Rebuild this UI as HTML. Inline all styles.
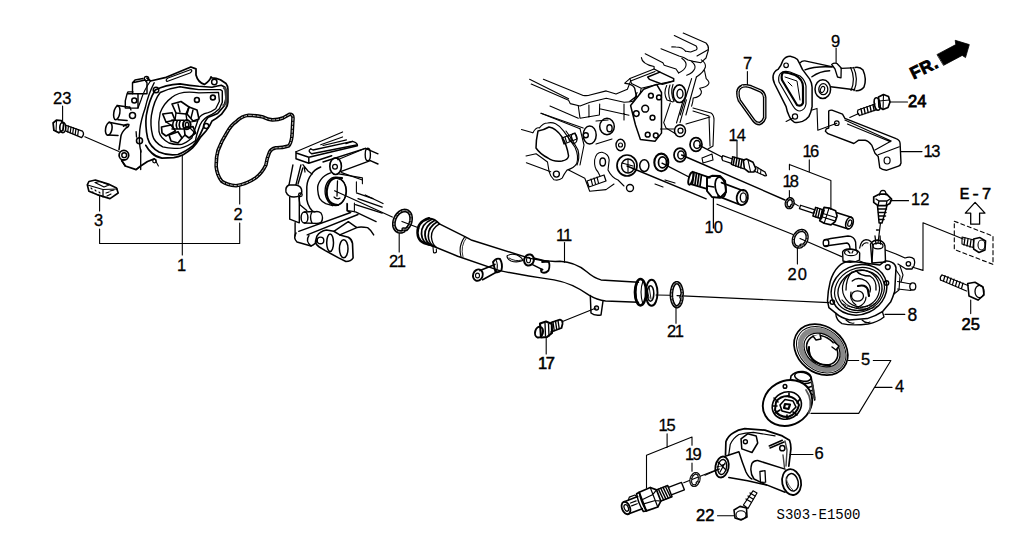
<!DOCTYPE html>
<html><head><meta charset="utf-8">
<style>
html,body{margin:0;padding:0;background:#fff;width:1022px;height:554px;overflow:hidden}
svg{display:block}
text{font-family:"Liberation Sans",sans-serif;font-size:16.5px;fill:#000;stroke:#000;stroke-width:0.3}
.l{stroke:#000;stroke-width:1.1;fill:none}
</style></head><body>
<svg width="1022" height="554" viewBox="0 0 1022 554">
<rect width="1022" height="554" fill="#fff"/>

<g id="pump" class="l" stroke-linejoin="round" stroke-linecap="round">
<!-- leader lines -->
<path d="M62.6,106 V120.5 M84.8,136.8 L119,151.5 M99.6,196 V211 M99.6,229 V243.5 H239.7 V223 M239.7,204 V186 M182.3,155 V255"/>
<!-- bolt 23 -->
<path d="M53.1,123 L56.4,120.1 L61.3,120.6 L63.7,123.8 L62.9,130.3 L58.8,132.8 L53.9,130.3 Z" stroke-width="1.76"/>
<path d="M56.5,121 L56,131.5" stroke-width="1.10"/>
<ellipse cx="62.8" cy="127.5" rx="3" ry="5.2" stroke-width="1.65"/>
<path d="M66.1,125.4 L82.4,131.1 M66.1,131.1 L81.6,137.6 M82.4,131.1 Q85,134 81.6,137.6" stroke-width="1.32"/>
<path d="M68.5,126 l-0.8,5.8 M71,127 l-0.8,5.8 M73.5,127.8 l-0.8,5.8 M76,128.6 l-0.8,5.8 M78.5,129.5 l-0.8,5.8" stroke-width="1.21"/>
<!-- part 3 -->
<path d="M88.9,181.5 L95.4,180 L108.4,184 L116.5,188 L118.2,193 L110,198.6 L97,194.6 L88.9,191.3 L87.3,184.8 Z" stroke-width="1.65"/>
<path d="M87.5,185 L103,189.5 L117.5,189 M103,189.5 L103,197 M95,182.5 L100,181.5 L109,185 L104,187 Z" stroke-width="1.21"/>
<path d="M91,188 l1,1 M95,190 l1,1 M92,192 l1,0 M99,192 l1,1 M106,193 l3,-1 M110,191 l4,-1 M107,196 l4,-2" stroke-width="1.10"/>
<!-- pump flange outer -->
<path d="M147,78 L150.5,81 L165,77.7 L190.9,67 L196,68.9 L196,75 Q198,82.5 204.4,84.4 Q210,81 211,76.9 L212,77.8 Q216,78 220.4,79.7 L226,83.5 Q228,86 227.9,89.1 L227.9,102.2 Q227.5,106 226,107.9 L221.3,114.4 Q216,119 212,121 Q210,126 206,131 L200.1,137.7 Q197,143 192.5,147.9 Q188,152 183.2,154.7 Q178,157 173.8,157.7 L162,158.1 Q156,157 151.8,153 Q148,149.5 145.8,145.4 M154.3,158.9 L147.5,161.5 L140.7,166 L136.1,169.6 L125.3,166 L121.7,160.6" stroke-width="1.76"/>
<path d="M168,78 L191,69.5 Q193,71 190,73 L167,81.5 Q165,80 168,78 Z" stroke-width="1.21"/>
<!-- left body -->
<path d="M132.5,82.8 L145.2,80 L147,82.8 L147,93.7 L132.5,93.7 Z M132.5,82.8 L135,80 L143,78.5" stroke-width="1.43"/>
<circle cx="146.5" cy="78.5" r="2.2" stroke-width="1.32"/>
<path d="M132.5,93.7 L127.1,93.7 L125.3,100.9 L125.3,108.1 L138,108.1 L138,93.7 M127.1,93.7 L128,91.9 L133,91.9" stroke-width="1.43"/>
<circle cx="134.3" cy="100.5" r="2.5" stroke-width="1.54"/>
<ellipse cx="116.8" cy="112.8" rx="3" ry="7" transform="rotate(10 116.8 112.8)" stroke-width="1.54"/>
<path d="M117.2,105.4 L129.8,107.2 M118,119.8 L127.1,120.5" stroke-width="1.54"/>
<circle cx="132.5" cy="115.4" r="3" stroke-width="1.54"/>
<ellipse cx="108.8" cy="128.8" rx="3.2" ry="6.5" transform="rotate(10 108.8 128.8)" stroke-width="1.54"/>
<path d="M109,122.3 L124.4,125.3 M108.1,135 L118,135.5" stroke-width="1.54"/>
<path d="M123.5,126.2 Q126,123.5 128.9,124.4 Q129,127 126,128 Q121,133 120.8,137 L119,149.7" stroke-width="1.54"/>
<path d="M129.8,107.2 L131,110 M124.4,125.3 L127,126" stroke-width="1.32"/>
<circle cx="123.9" cy="155.2" r="4.8" stroke-width="1.76"/>
<circle cx="124.2" cy="155.2" r="2.4" stroke-width="1.43"/>
<path d="M121.7,160.6 L125.3,166" stroke-width="1.43"/>
<path d="M136.1,131.6 L136.5,137 M140.7,149.7 L140.7,169.6 M136.1,169.6 L140.7,166" stroke-width="1.32"/>
<circle cx="139.5" cy="140.7" r="3" stroke-width="1.54"/>
<path d="M154.2,82.8 Q148,95 145.2,108.1 Q141,120 139.8,129.8 Q138.5,142 141,152" stroke-width="1.43"/>
<path d="M150.5,81 Q144,90 141,100 L138,108" stroke-width="1.21"/>
<!-- groove 3 lines -->
<path d="M155.2,90 Q165,85 180,83.9 Q190,85.5 198.8,86.3 L212,87.2 Q218,86 221.3,85.3 L225,87.2 L226,98.5 L224.1,106 L217.6,113.5 Q212,116 208.2,117.3 Q204,122 203.2,127.9 Q198,140 193,145.6 Q185,152 177.9,154.5 Q168,156 159,152 Q150,147 147.6,138 Q145,126 146.3,115.3 Q149,100 155.2,90 Z" stroke-width="1.65"/>
<path d="M160.2,92.5 Q170,88 180,86.7 Q190,88.5 198.8,89.6 L220.4,89.6 L222.3,91 L222.3,102.2 L219.4,108.8 Q215,113 211.9,114.4 Q203,118 200,125 Q196,136 195.6,140.5 Q187,147 180.4,148.1 Q170,149 162.7,146.9 Q154,142 152.6,135.5 Q150,125 151.4,115.3 Q154,100 160.2,92.5 Z" stroke-width="1.43"/>
<path d="M171.6,97.6 Q180,90 198.8,92.8 L218.5,92.4 L219.4,101.3 L215.7,108.8 Q211,112 208.2,112.6 Q200,114 198,120 Q194,132 191.8,138 Q186,143 181.7,144.3 Q175,145 169,143 Q160,138 159,131.7 Q158,122 160.2,112.7 Q164,103 171.6,97.6" stroke-width="1.32"/>
<path d="M224,88 L226.5,90 L226,104 L223.5,105" stroke-width="2.42" stroke="#444"/>
<!-- holes -->
<circle cx="214.3" cy="82" r="2.7" stroke-width="1.43"/>
<circle cx="196.9" cy="99.9" r="2.4" stroke-width="1.65"/>
<circle cx="212.9" cy="97.5" r="2.4" stroke-width="1.65"/>
<circle cx="206.2" cy="126" r="2.5" stroke-width="1.43"/>
<circle cx="156" cy="90" r="2.8" stroke-width="1.43"/>
<!-- impeller -->
<path d="M172,104 L181,101.5 L189,107 L186,114 L176,113 Z" stroke-width="1.65"/>
<path d="M189,107 L197,110 L199,119 L193,121 L187,114 Z" stroke-width="1.65"/>
<path d="M162.7,114 L172,112.7 L175,120 L166,122 Z" stroke-width="1.65"/>
<path d="M161.5,127 L171,125 L175.4,131 L166,136 L162,133 Z" stroke-width="1.65"/>
<path d="M169,135 L178,131.7 L182,138 L178,143 L171,141 Z" stroke-width="1.65"/>
<path d="M184.2,128 L193,126.6 L195.6,133 L189,138 L185,135 Z" stroke-width="1.65"/>
<path d="M176,113 L175,120 M186,114 L187,121 M166,122 L171,125 M182,138 L185,135 M178,104 L180,112 M193,110 L191,118" stroke-width="1.43"/>
<path d="M171.6,120.3 L184,120.3 M172,129 L184,129 M174,120.3 Q171.5,124.5 174,129 M177.5,120.3 Q175,124.5 177.5,129 M180.5,120.3 Q178,124.5 180.5,129" stroke-width="1.54"/>
<ellipse cx="186.8" cy="124.7" rx="3.8" ry="4.6" stroke-width="1.98"/>
<ellipse cx="187" cy="124.7" rx="1.7" ry="2.3" stroke-width="1.43"/>
<path d="M190.5,122 L197,121 M190,128 L195,133" stroke-width="1.21"/>
<path d="M155.5,160.5 L158.4,166" stroke-width="1.10"/>
<circle cx="154.5" cy="161" r="1.8" stroke-width="1.21"/>
</g>

<g id="gasket2" fill="none" stroke-linejoin="round">
<path id="g2p" d="M248.7,115.3 Q256,115.5 263.2,117.1 Q268,119.5 272.2,119.9 Q278,120 283,118 L289.4,114.4 Q293,114 293,118 L292,136 Q291,144 288.4,146 Q282,148 275.8,147.8 Q271,149 269.5,152.3 Q267,158 265.9,165 Q262,173 256,177.6 Q247,184 236.1,185.7 Q227,185 221.7,181.2 Q217,175 216.2,166.8 Q216,157 218,150.5 Q222,140 227,132.5 Q231,125 236.1,121.7 Q242,116 248.7,115.3 Z" stroke="#000" stroke-width="3.6"/>
<path d="M248.7,115.3 Q256,115.5 263.2,117.1 Q268,119.5 272.2,119.9 Q278,120 283,118 L289.4,114.4 Q293,114 293,118 L292,136 Q291,144 288.4,146 Q282,148 275.8,147.8 Q271,149 269.5,152.3 Q267,158 265.9,165 Q262,173 256,177.6 Q247,184 236.1,185.7 Q227,185 221.7,181.2 Q217,175 216.2,166.8 Q216,157 218,150.5 Q222,140 227,132.5 Q231,125 236.1,121.7 Q242,116 248.7,115.3 Z" stroke="#fff" stroke-width="0.8" stroke-dasharray="3,1"/>
</g>
<g id="block1" class="l" stroke-linejoin="round" stroke-linecap="round" stroke-width="1.38">
<!-- slab -->
<path d="M296,151.8 L342.6,131.9 M320.7,144.8 L342.6,136.9 M323,145.5 L346.5,139.9"/>
<path d="M296,151.8 L296,158.7 L308.8,163.2 L331.7,155.8 M297,153.3 L308.8,157.2 L357.4,145.8 Q358,143 352.5,141.4 L346,143.5 M308.8,157.2 V163.2" stroke-width="1.49"/>
<path d="M310.8,148.8 Q307,151 311.8,153.8 L356.5,145 M310.8,148.8 L313,150 L352.5,141.4" stroke-width="1.38"/>
<!-- rail -->
<path d="M323,162 L365.4,148.3 L378,153.8 M340.6,171.6 L370.3,160.7 L378,164" stroke-width="1.38"/>
<path d="M337.6,159.7 L365.4,148.3" stroke-width="1.15"/>
<ellipse cx="367.8" cy="154.5" rx="2.6" ry="6.2" stroke-width="1.38"/>
<!-- boss -->
<ellipse cx="335.6" cy="166.2" rx="5.8" ry="8.3" stroke-width="1.61"/>
<circle cx="335" cy="166.7" r="2.4" stroke-width="1.26"/>
<path d="M302.9,164.7 L308,171 L312,174 M304,166 L305,172" stroke-width="1.26"/>
<!-- bore -->
<path d="M320.7,167 Q314,170 311.8,173.9 Q307,180 306.8,186.8 L306.8,199.7 Q307.5,204 309.8,207.7 L312.8,211.6" stroke-width="1.49"/>
<path d="M330.6,172.9 Q324,175 320.7,179.9 Q317,185 317.7,189.8 Q318,195 319.7,198.7 Q322,202 325.7,203.7 L332.6,205.7" stroke-width="1.38"/>
<ellipse cx="335.6" cy="191.3" rx="10.5" ry="14.2" stroke-width="1.38"/>
<path d="M342,178 Q332,176.5 329,183 Q325,191 328,199 Q331,205 338,205" stroke-width="2.07"/>
<path d="M337,178.5 Q346,180 346.5,191 Q346,201 338,205 M337.5,181 L337,196" stroke-width="1.26"/>
<path d="M334,197 Q337,200 340,198" stroke-width="1.15"/>
<!-- through line -->
<path d="M334.6,190.8 L392.3,217 M402,221.5 L419,228" stroke-width="1.26"/>
<!-- right face -->
<path d="M338.6,173.9 L362.4,177.9 L362.4,183.8 M356.4,181.9 L356.4,191.8 M347.5,203.7 L347.5,210.6 L354.4,211.6 M354.4,203 L354.4,212"/>
<path d="M356.4,192.8 L373,198.7 M341.6,172.6 L362.4,180" stroke-width="1.26"/>
<!-- left arm -->
<path d="M292.9,165 L289,184.8 M300.9,165 L295.9,184.8 M302.8,168 L298,184" stroke-width="1.38"/>
<path d="M289,185 Q285,187 286,192 Q288,197 294,197 Q301,197 301.8,192 Q302,186 296,185 Z" stroke-width="1.5"/>
<circle cx="300.4" cy="194.8" r="1.8" stroke-width="1.27"/>
<path d="M289.7,197 V219.2 L299.3,222.8 M299.3,197 V222.8 M295.1,222.8 V236.1" stroke-width="1.4"/>
<path d="M298.9,197 L299.9,204.7 L306.8,210.6" stroke-width="1.3"/>
<!-- cylinder stub -->
<ellipse cx="304.5" cy="217.5" rx="3.4" ry="5.6" stroke-width="1.45"/>
<path d="M304.5,212 L314,211.5 M304.5,223 L315,223.4 M312,212 Q309,217 312,223" stroke-width="1.4"/>
<path d="M314,212 Q318,210.5 321,213 Q324,218 321,222.5 Q318,224 315,223.4" stroke-width="1.4"/>
<!-- bottom rail -->
<path d="M298.7,231.3 L350.7,212.5 M307.2,234.9 L358,214.5 M347,203.5 V210.7 L350.7,212.5" stroke-width="1.4"/>
<path d="M296,233 Q293,238 297,242 L311,246 Q316,244 316.9,240" stroke-width="1.5"/>
<path d="M309,235.5 Q305,241 311,246" stroke-width="1.3"/>
<!-- gasket plate -->
<path d="M316.9,236.1 Q320,231 326.5,230 L333.8,231.3 L339.8,234.9 L348.3,237.3 Q352,239.5 352.5,243.4 L353.1,257.9 Q351,261.5 345.9,261.5 L338.6,257.9 L325.3,250.6 L319.3,247 Q315,244 315.6,240.9 Z" stroke-width="1.6"/>
<circle cx="320.5" cy="240.4" r="3.3" stroke-width="1.4"/>
<ellipse cx="330.1" cy="242.8" rx="3.4" ry="8.8" stroke-width="1.5"/>
<ellipse cx="343.7" cy="248.8" rx="4.3" ry="9" stroke-width="1.5"/>
<path d="M333.8,231.3 L348.3,221.6 L356.8,227.6 Q360,226.5 367.6,227.6 Q371,230 373.7,234.9 M339.8,234.9 L356.8,227.6" stroke-width="1.4"/>
<path d="M355.5,204.7 L382.2,213.1 M355.5,211.9 L376.1,221.6 M358,198.6 L382.2,207.1 M365.2,195 L383,203.5" stroke-width="1.3"/>
</g>

<g id="pipe11" class="l" stroke-linejoin="round" stroke-linecap="round">
<!-- ring 21 left -->
<path d="M403.7,231.1 L402.4,231.6 L401.1,231.9 L399.9,231.9 L398.7,231.7 L397.5,231.2 L396.5,230.6 L395.7,229.7 L395.0,228.7 L394.4,227.4 L394.0,226.1 L393.9,224.6 L393.9,223.1 L394.1,221.5 L394.5,219.9 L395.0,218.3 L395.8,216.8 L396.6,215.4 L397.7,214.1 L398.8,213.0 L400.0,212.1 L401.2,211.4 L402.5,210.8 L403.8,210.6 L405.1,210.5 L406.3,210.7 L407.4,211.1 L408.4,211.8 L409.3,212.6 L410.0,213.7 L410.6,214.9 L410.9,216.3 L411.1,217.7 L411.1,219.3 L410.9,220.8 L410.6,222.4 L410.0,224.0 L409.3,225.5 L408.4,226.9 L407.4,228.2 L406.3,229.3 L403.2,229.2" stroke-width="3.8" stroke-linecap="round" stroke-linejoin="round"/>
<path d="M403.7,231.1 L402.4,231.6 L401.1,231.9 L399.9,231.9 L398.7,231.7 L397.5,231.2 L396.5,230.6 L395.7,229.7 L395.0,228.7 L394.4,227.4 L394.0,226.1 L393.9,224.6 L393.9,223.1 L394.1,221.5 L394.5,219.9 L395.0,218.3 L395.8,216.8 L396.6,215.4 L397.7,214.1 L398.8,213.0 L400.0,212.1 L401.2,211.4 L402.5,210.8 L403.8,210.6 L405.1,210.5 L406.3,210.7 L407.4,211.1 L408.4,211.8 L409.3,212.6 L410.0,213.7 L410.6,214.9 L410.9,216.3 L411.1,217.7 L411.1,219.3 L410.9,220.8 L410.6,222.4 L410.0,224.0 L409.3,225.5 L408.4,226.9 L407.4,228.2 L406.3,229.3 L403.2,229.2" stroke="#fff" stroke-width="0.7" stroke-dasharray="2,1.5"/>
<path d="M399.2,233.5 V252" stroke-width="1.1"/>
<!-- left end flange -->
<path d="M429,218.3 Q417,222 417.5,233 Q418,243 429,244.5" stroke-width="2.46"/>
<path d="M429,218.3 Q435,218.5 439.4,223.9" stroke-width="1.68"/>
<path d="M431.5,219.5 Q421,224 421.5,234 Q422,243 431,245.5" stroke-width="1.79"/>
<path d="M434.5,220.5 Q424.5,226 425,235 Q425.5,243 432.5,246" stroke-width="1.79"/>
<path d="M437,222 Q428,227 428.3,236 Q428.5,243 434,246.5" stroke-width="1.57"/>
<path d="M439.4,223.9 Q431,229 431.4,237 Q432,244 436,247" stroke-width="1.34"/>
<!-- pipe body -->
<path d="M439.4,223.9 L464.9,236.7 L472,240.3 L530,258.4 Q545,262 560,261.3 Q575,262 586.8,271.7 Q594,278 601,279.9 L638.5,282.2" stroke-width="1.46"/>
<path d="M429,244.5 L457.7,256.2 L499.5,270.6 M499.5,270.6 Q520,275 554,279.9 Q572,283 589,295.2 Q597,300 605.6,301 L638.5,302.2" stroke-width="1.46"/>
<path d="M464.9,236.7 Q458,246 461,256.5" stroke-width="1.1"/>
<path d="M466.5,237.6 Q460,246 463,257" stroke-width="0.8"/>
<path d="M433,247 L433.5,252.5 Q435,253.5 436.5,252 L436.3,249" stroke-width="1.1"/>
<!-- left bolt -->
<ellipse cx="477.9" cy="275.1" rx="4.8" ry="5.8" transform="rotate(20 477.9 275.1)" stroke-width="1.90"/>
<ellipse cx="477.5" cy="275.5" rx="2" ry="2.4" stroke-width="1.1"/>
<path d="M480,270.6 L495,264.4 M482.6,279.8 L496.7,272" stroke-width="1.57"/>
<path d="M493,262 Q496,257.5 500,259 Q503,264 501.5,270 Q499,273 495.5,272 Z" stroke-width="1.90"/>
<path d="M496,260 Q498.5,265 496.5,271.5" stroke-width="1.1"/>
<!-- top small bolt -->
<path d="M507,256 Q511,253 517,255 Q522,257.5 523,260.5 Q517,263 511,261 Q507,259 507,256 Z" stroke-width="1.1"/>
<path d="M509,258 Q515,262 522,260" stroke-width="0.9"/>
<ellipse cx="529" cy="260" rx="4.8" ry="5.6" transform="rotate(15 529 260)" stroke-width="2.02"/>
<ellipse cx="528.5" cy="260" rx="2" ry="2.8" stroke-width="1.1"/>
<path d="M533.5,258 L548.6,261.7 M532,264.4 L542.5,269.6" stroke-width="1.57"/>
<path d="M542,262 L548.5,261.5 Q550.5,265 548.5,270.5 Q545,274 541.5,272 Q540,269 542.5,269.6" stroke-width="1.79"/>
<!-- leader 11 -->
<path d="M564.5,242.5 V262.3" stroke-width="1.1"/>
<!-- right end flange -->
<ellipse cx="640.5" cy="292.2" rx="5.6" ry="13.2" stroke-width="2.46"/>
<path d="M638,281 Q634,292 638,304 M643,281 Q639,292 643,304.5" stroke-width="1.1"/>
<ellipse cx="651.6" cy="292.8" rx="5.9" ry="13" stroke-width="1.90"/>
<ellipse cx="650.5" cy="293.5" rx="3.3" ry="7.8" stroke-width="1.57"/>
<path d="M647,288 l2,10 M649,286 l2,13" stroke-width="0.9"/>
<path d="M656,295 L670,295.3 M677,295.6 L829,302.6" stroke-width="1.1"/>
<!-- ring 21 right -->
<path d="M682.0,297.6 L681.8,299.3 L681.4,300.9 L681.0,302.4 L680.4,303.6 L679.8,304.7 L679.1,305.6 L678.3,306.2 L677.5,306.6 L676.7,306.7 L675.9,306.5 L675.1,306.1 L674.4,305.4 L673.7,304.5 L673.1,303.4 L672.5,302.0 L672.1,300.6 L671.7,298.9 L671.5,297.2 L671.4,295.4 L671.4,293.7 L671.6,291.9 L671.8,290.2 L672.2,288.6 L672.6,287.1 L673.2,285.8 L673.8,284.7 L674.5,283.8 L675.3,283.2 L676.0,282.8 L676.8,282.7 L677.6,282.8 L678.4,283.3 L679.2,283.9 L679.9,284.8 L680.5,286.0 L681.0,287.3 L681.5,288.8 L681.8,290.4 L682.1,292.1 L682.2,293.9 L681.0,297.3" stroke-width="3.6" stroke-linecap="round" stroke-linejoin="round"/>
<path d="M682.0,297.6 L681.8,299.3 L681.4,300.9 L681.0,302.4 L680.4,303.6 L679.8,304.7 L679.1,305.6 L678.3,306.2 L677.5,306.6 L676.7,306.7 L675.9,306.5 L675.1,306.1 L674.4,305.4 L673.7,304.5 L673.1,303.4 L672.5,302.0 L672.1,300.6 L671.7,298.9 L671.5,297.2 L671.4,295.4 L671.4,293.7 L671.6,291.9 L671.8,290.2 L672.2,288.6 L672.6,287.1 L673.2,285.8 L673.8,284.7 L674.5,283.8 L675.3,283.2 L676.0,282.8 L676.8,282.7 L677.6,282.8 L678.4,283.3 L679.2,283.9 L679.9,284.8 L680.5,286.0 L681.0,287.3 L681.5,288.8 L681.8,290.4 L682.1,292.1 L682.2,293.9 L681.0,297.3" stroke="#fff" stroke-width="0.7" stroke-dasharray="2,1.5"/>
<path d="M676,306.5 V323.3" stroke-width="1.1"/>
<!-- bracket tab -->
<path d="M590.3,295.5 L591,313 Q594,316 601,315 L603,301" stroke-width="1.46"/>
<circle cx="596.5" cy="308" r="2" stroke-width="1.34"/>
<path d="M596,308 L562.5,321.5" stroke-width="1.1"/>
<!-- bolt 17 -->
<path d="M540,323.5 L546,321.5 L551.8,324 L552,333 L547,337 L541,337.5 Z" stroke-width="2.13"/>
<ellipse cx="539" cy="332.2" rx="3.9" ry="5.4" transform="rotate(15 539 332.2)" stroke-width="2.02"/>
<path d="M545,323 L545.5,336 M548.5,324 L549,336" stroke-width="1.34"/>
<path d="M551,322.5 L560,319.7 Q563,320.5 562.5,324 L561.5,328 L551,332" stroke-width="1.79"/>
<path d="M553,322 l1.2,8.5 M555.5,321.2 l1.2,8.2 M558,320.5 l1.2,8" stroke-width="1.34"/>
<path d="M546.2,337.5 V354" stroke-width="1.1"/>
</g>

<g id="block2" class="l" stroke-linejoin="round" stroke-linecap="round" stroke-width="1.35">
<!-- top lines -->
<path d="M683.2,33.1 L706,43 Q709,46 708.4,49.4 L697,56"/>
<path d="M674.3,35.6 L696.2,46.1 Q698,49 696,50 L690.7,52 Q686,51 685.7,51.3 Q682,47 676,47 Q671.8,46.9 671.8,46.9"/>
<path d="M661,48.8 L679,56 Q684,57 688,60 L693.3,61.4 L700.9,62.7 L706,58 L708.4,50"/>
<path d="M645.2,53.8 L662.9,62.7 L664.2,65.2 L676,69 L678.6,72.9"/>
<path d="M641.4,57.6 Q642,64 654.1,66.5 L654.1,69 L629.9,78.6 L625,82.9"/>
<path d="M681.8,58.3 Q687,62 685.9,66 Q685,70 678.6,72.9 M691.6,61.5 Q696,65 694.8,68.5 Q693,73 686.7,75.3 M701.3,59.9 Q706,63 705.4,67 Q704,72 696.4,77"/>
<path d="M704.5,70.5 L706.2,78.6 Q710,82 708.6,84 Q707,87 699.7,88.3 Q702,91 701.3,93 Q700,97 693.2,98 Q693,102 691.6,106.2"/>
<path d="M696.4,77 L685.9,115 M691.6,78.6 L680.2,115"/>
<path d="M629.9,78.6 L631.5,83.4 L641.2,88.3 L662.3,83.4 L673.7,81 M641.2,88.3 L640,94"/>
<path d="M647.7,77 L659.9,72.1 L673.7,78.6 L673.7,81 L662.3,84.3 L649.4,79.4 Z" stroke-width="1.49"/>
<path d="M654.1,69 L659.9,72.1" stroke-width="1.38"/>
<path d="M625,83.4 Q633,84 634.7,88.3 L636.4,96.4 L629.9,101.3" stroke-width="1.38"/>
<path d="M666.7,85.5 Q663,93 667,100 L673,101.9 M670,85 Q667,93 670.5,101 M673,84.5 Q670,93 674,101.5"/>
<!-- left long lines -->
<path d="M543.4,79.2 L583.2,95.5 Q588,96 590,95 L606.2,90.9 L616,94.1 L627.4,89.2 L630.6,81.1 L655,71.4"/>
<path d="M529.6,79.2 L568.6,98.7 M531.2,84.1 L568.6,100.3 L570.2,103.6 L580,106 L590,102.2 L606.2,98.2 L624.1,102.2 Q632,102 633.9,100.6 L637.1,92.5"/>
<path d="M578.3,106 L580,118.2 L599.4,115 L599.7,104 M588.9,105 L589,117 M599.7,108.7 L629,115.2 M624,104 L624,120"/>
<path d="M550,106 L578.3,118.2 M541,113.3 L583.2,128 M521.5,129.5 L532.9,132.7"/>
<path d="M541,113.3 L580,128.7"/>
<!-- plate with holes -->
<path d="M632.2,112 L630.6,105.5 L643.6,89.2 L656.6,84.4 L661.5,92.5 L661.5,133.1 L655,141.2 L640.4,139.6 L635.5,125 Z" stroke-width="1.49"/>
<circle cx="650.9" cy="95.7" r="2.4" stroke-width="1.49"/>
<circle cx="659" cy="97.4" r="2.4" stroke-width="1.49"/>
<circle cx="645.2" cy="108.7" r="3.4" stroke-width="1.49"/>
<circle cx="636.3" cy="113.6" r="2.8" stroke-width="1.49"/>
<circle cx="652.5" cy="117.7" r="2.4" stroke-width="1.49"/>
<circle cx="647.7" cy="134.7" r="2.4" stroke-width="1.49"/>
<circle cx="655.8" cy="135.5" r="2.4" stroke-width="1.49"/>
<!-- bosses bottom-left of plate -->
<ellipse cx="607" cy="126.5" rx="7.3" ry="8.2" stroke-width="1.49"/>
<ellipse cx="609.5" cy="128.2" rx="2.6" ry="3.5" stroke-width="1.38"/>
<!-- boss top -->
<ellipse cx="679.4" cy="93.7" rx="6.3" ry="8.8" stroke-width="1.72"/>
<ellipse cx="680" cy="93.7" rx="3" ry="4.5" stroke-width="1.38"/>
<!-- arm -->
<path d="M670.2,103.1 L663.7,122.6 L666,128 L676,134 M686.4,99.9 L680,122.6 M683,101 L676.5,123"/>
<path d="M660.5,129 L674,129"/>
<ellipse cx="680" cy="130.7" rx="5.5" ry="6" stroke-width="1.49"/>
<circle cx="680.5" cy="130.7" r="2.5" stroke-width="1.26"/>
<!-- bracket right -->
<path d="M693,108 L711,113 Q714,115 714,120 L713,146 L708,149 M693,111 L709,116 L710,146"/>
<path d="M686,124 L710,117"/>
<path d="M702,158 L712,154 L713,160 L703,163 Z" stroke-width="1.15"/>
<!-- seal rings -->
<ellipse cx="696" cy="144.5" rx="6" ry="6.8" stroke-width="1.72"/>
<ellipse cx="697" cy="144.5" rx="3.2" ry="4" stroke-width="1.49"/>
<ellipse cx="680" cy="155" rx="6" ry="6.8" stroke-width="1.72"/>
<ellipse cx="681" cy="155" rx="3.2" ry="4" stroke-width="1.49"/>
<ellipse cx="661.3" cy="162.4" rx="7" ry="8.8" stroke-width="2.07"/>
<ellipse cx="662.5" cy="162.4" rx="4" ry="5.5" stroke-width="1.72"/>
<ellipse cx="644.3" cy="165.6" rx="4.6" ry="5.8" stroke-width="1.49"/>
<!-- big bore -->
<ellipse cx="627" cy="165.5" rx="10" ry="10.5" stroke-width="1.72"/>
<ellipse cx="628" cy="166" rx="6.5" ry="7" stroke-width="1.38"/>
<path d="M622,163 L633,166 M628,159 L628,172"/>
<!-- lines from rings -->
<path d="M699.4,145.3 L722,157 M681.6,155 L785,200 M662,163.2 L689,177 M627,166 L706.2,198.8" stroke-width="1.38"/>
<path d="M665,180 l10,3 M655,184 l8,3" stroke-width="1.15"/>
<!-- stud 10 -->
<ellipse cx="690.8" cy="178.5" rx="2" ry="6.4" transform="rotate(15 690.8 178.5)" stroke-width="1.84"/>
<path d="M692.6,171.7 L709.8,177.6 M691.7,184.4 L707,188.9" stroke-width="1.72"/>
<path d="M694,172.5 l-1.5,11 M696.5,173.3 l-1.5,11 M699,174.1 l-1.5,11 M701.5,175 l-1.5,11" stroke-width="1.72"/>
<path d="M707,178 L712,175.8 L720,176 L725.1,181 L726,192 L720,197.9 L712,197 L707,191 Z" stroke-width="1.95"/>
<ellipse cx="720.5" cy="187.3" rx="5.2" ry="10.2" transform="rotate(-10 720.5 187.3)" stroke-width="1.72"/>
<path d="M707.5,186 L714,187" stroke-width="1.38"/>
<path d="M721.5,182.6 L743.2,190.7 M718,196.1 L738.7,204.2" stroke-width="1.72"/>
<ellipse cx="742.3" cy="197.5" rx="5.6" ry="7.6" transform="rotate(10 742.3 197.5)" stroke-width="1.84"/>
<ellipse cx="743.3" cy="197.5" rx="3" ry="4.6" stroke-width="1.38"/>
<path d="M713.4,197.9 V228" stroke-width="1.26"/>

<!-- left gasket flange -->
<path d="M532.9,132.7 Q536,127 539.4,127.9 Q543,123 547.5,123 Q552,122 555.6,123.8 Q560,126 563.7,131.1 L575.1,147.4 Q579,156 576.7,163.6 Q574,168 567,170.1 Q564,174 562.1,178.2 Q559,181 554,179.8 Q550,176 549.1,171.7 L547.5,162 Q542,158 536.1,153.8 L526,156"/>
<path d="M538,131 Q536,140 536,148 Q540,154 548,158 Q553,162 562,161 Q568,160 568.6,156 Q567,145 562,137 Q556,128 549,127 Q544,130 538,131 Z" stroke-width="1.49"/>
<path d="M566,131 Q573,140 578,150 Q580,158 577,165" stroke-width="1.15"/>
<circle cx="556.4" cy="174.1" r="3" stroke-width="1.38"/>
<!-- studs -->
<path d="M562,138 L575,133 L577,139 L564,144 Z" stroke-width="1.26"/>
<path d="M565,137 l1.5,5 M568,136 l1.5,5 M571,135 l1.5,5"/>
<ellipse cx="574" cy="138.5" rx="3" ry="5" stroke-width="1.26"/>
<path d="M587,181 L604,175 L606,181 L589,187 Z" stroke-width="1.26"/>
<path d="M591,179 l1.5,6 M594,178 l1.5,6 M597,177 l1.5,6"/>
<!-- bosses -->
<ellipse cx="589.7" cy="135" rx="6.5" ry="9" stroke-width="1.49"/>
<circle cx="585.8" cy="135.2" r="2.5" stroke-width="1.38"/>
<path d="M596,121 L608,120 M596,144 L612,139"/>
<ellipse cx="620.5" cy="145" rx="4.5" ry="5.7" stroke-width="1.38"/>
<circle cx="620.5" cy="145" r="2" stroke-width="1.15"/>
<path d="M594.6,160 Q596,152 602,152.2 Q609,154 609.2,160 L608,170 Q612,178 618,180 L624,186 M594.6,160 Q594,168 598,172 L600,176"/>
<ellipse cx="602.7" cy="162" rx="2.8" ry="4" stroke-width="1.38"/>
<path d="M568.6,170 L584.8,178.2 L589.7,191.2 L606,189.6 L614,184"/>
<path d="M526.4,162.8 L550.7,171.7"/>
<path d="M580,128.7 L584,145 L580,165"/>
<circle cx="630" cy="188" r="3.5" stroke-width="1.38"/>
</g>

<g id="right" class="l" stroke-linejoin="round" stroke-linecap="round" stroke-width="1.2">
<!-- gasket 7 -->
<path d="M742.3,86.1 Q738,88 738,91.8 Q737.5,96 739.4,100.5 L753.9,120.7 Q756,123.5 759.6,123.6 Q763.5,122 764.7,117.8 L764.7,97.6 Q764,93 761,91.1 L751,86.8 Q746,85 742.3,86.1 Z" stroke-width="3.6"/>
<path d="M742.3,86.1 Q738,88 738,91.8 Q737.5,96 739.4,100.5 L753.9,120.7 Q756,123.5 759.6,123.6 Q763.5,122 764.7,117.8 L764.7,97.6 Q764,93 761,91.1 L751,86.8 Q746,85 742.3,86.1 Z" stroke="#fff" stroke-width="0.9"/>
<path d="M747.4,71.6 V84.6 M836.1,48 V63"/>
<!-- outlet 9 flange -->
<path d="M782.9,60.4 Q786,56 791,56.4 Q795,57 797.5,59.6 Q800,64 802.4,69.4 L809.7,79.1 Q812,83 812.1,87.2 L812.1,106.7 Q811,113 808.9,116.5 Q806,120 802.4,121.4 Q798,123 794.2,122.2 Q790.5,120 789.4,116.5 Q787,112 786.1,106.7 L774.7,84 Q772.5,79 773.1,75.9 Q774,71 778,69.4 Q781,66 782.9,60.4 Z" stroke-width="1.5"/>
<path d="M780,74 Q783,70 790,72 L800,76 Q805,80 806,86 L806,104 Q805,110 800,111 Q796,111 793,106 L779,82 Q778,77 780,74 Z" stroke-width="1.2"/>
<path d="M782.9,72.6 Q786,72 795,75 Q803,79 803,87 L803,103 Q801,107 797,105 L782,80 Q781,75 782.9,72.6 Z" stroke-width="2.2"/>
<path d="M785,77 L797,81 L800,100 M788,82 L792,86" stroke-width="1"/>
<circle cx="786.1" cy="65.3" r="2.3" stroke-width="1.2"/>
<circle cx="795" cy="116.5" r="2.6" stroke-width="1.2"/>
<path d="M786.1,121.4 L793,118"/>
<!-- outlet pipe -->
<path d="M800,62.9 Q802,60.5 804.9,60.9 L832.7,66.9 M805,69.9 Q815,66 832,67 M811.9,76.8 Q820,71 829.7,70.8" stroke-width="1.4"/>
<path d="M841.2,68.4 L852.6,67.9 M830.7,86.7 L854.6,89.7" stroke-width="1.4"/>
<path d="M850.6,67.6 Q856,79 851,90.5 M853.5,67.5 Q859,79 854,90.7" stroke-width="1.2"/>
<path d="M855,67.4 Q860,66.5 863,70 Q867,79 864,87 Q861,91 856,90.7" stroke-width="1.5"/>
<path d="M831.7,64.5 Q834,62.5 837,63.5 L841.2,68 L841,77.8 L837.5,77 L835,69 Z" stroke-width="1.3"/>
<ellipse cx="822.8" cy="89.2" rx="7.8" ry="9.4" stroke-width="1.5"/>
<ellipse cx="823.3" cy="89.2" rx="4.5" ry="5.5" stroke-width="1.3"/>
<ellipse cx="822.5" cy="89.5" rx="2" ry="3.2" transform="rotate(20 822.5 89.5)" stroke-width="1.1"/>
<!-- dashed line bracket from flange -->
<path d="M812.1,110 L817,108.4 L817.8,130.3 L836.8,123.2"/>
<!-- bracket 13 -->
<path d="M828.7,111 Q830,110 831.9,110.2 L842.5,114.2 L844.9,118.3 L896.1,138.6 Q900,140 900.1,143.5 L901,163 Q900.5,165.5 898.5,166.2 L886.3,170.3 Q882,170 879.8,167.8 L878.2,156.5 L875,153.2 L871.7,145.1 Q868,140.5 865.2,140.2 L858.7,140.2 L853.9,143.5 L827.9,133.7 L825.4,131.3 L826.2,128.9 L828.7,128 Z" stroke-width="1.4"/>
<path d="M844.9,120 L891.2,141 L875,150 M847.4,124 L890.4,141.8 M878.2,154.8 L899.3,146.7" stroke-width="1.1"/>
<ellipse cx="887.1" cy="160.5" rx="3" ry="3.5" stroke-width="1.2"/>
<circle cx="836.8" cy="123.2" r="2.3" stroke-width="1.2"/>
<path d="M849.8,117.5 L858.7,113.4 M901,151.6 H922"/>
<!-- bolt 24 -->
<path d="M878.5,97 L883.5,94.5 L888.5,96.5 L890,102 L888,107.5 L883,109.5 L879,107 Z" stroke-width="1.7"/>
<path d="M883.5,94.5 L883,109.5 M879,101 L889.5,100" stroke-width="1.1"/>
<ellipse cx="877.2" cy="104" rx="2.8" ry="6.3" transform="rotate(-10 877.2 104)" stroke-width="1.6"/>
<path d="M858,110 L875,104 M859.5,115.5 L876,109.8 M858,110 Q856.5,113 859.5,115.5" stroke-width="1.3"/>
<path d="M861,108.8 l1.2,5.8 M864,107.8 l1.2,5.8 M867,106.8 l1.2,5.8 M870,105.8 l1.2,5.8 M873,104.8 l1.2,5.8" stroke-width="1.4"/>
<path d="M890,102 H907.5"/>
<!-- FR arrow -->
<path d="M937.3,54.4 L955.8,44.6 L955.2,40.3 L969.3,44.6 L965.5,57.6 L962.2,55.4 L943.8,65.2 Z" fill="#000" stroke-width="0.8"/>
<!-- sensor 14 -->
<path d="M737,140.5 V157"/>
<path d="M722.7,155.7 L732.5,159 M722.7,160.5 L731.4,163.3 M722.7,155.7 Q721,158 722.7,160.5" stroke-width="1.3"/>
<path d="M732.5,156.8 L744.4,160 M731.4,164.4 L743.3,168.7 M732.5,156.8 L731.4,164.4" stroke-width="1.4"/>
<path d="M734.5,157.5 l-1.3,7.5 M737,158.2 l-1.3,7.8 M739.5,158.9 l-1.3,8 M742,159.6 l-1.3,8.2" stroke-width="1.5"/>
<path d="M743.3,160 L746.5,159 L753,162.2 L755.8,168.7 L754.1,172 L748.7,172 L744.4,168.7 Z" stroke-width="1.6"/>
<path d="M748,160 L750.5,171.5" stroke-width="1.1"/>
<path d="M755.8,166.5 L765,172 M754,171 L765,175.8 M765,172 L766.5,175.5 L765,175.8" stroke-width="1.3"/>
<path d="M758,168 l-0.5,4 M761,169.8 l-0.5,4" stroke-width="1"/>
<!-- 16 / 18 -->
<path d="M789.4,164.4 L830.9,180.6 L830.9,209.5 M789.4,164.4 V169.8 M809.3,159.9 V172"/>
<path d="M789.4,190.6 V197.8"/>
<path d="M791.9,206.2 L791.5,206.7 L791.1,207.0 L790.6,207.4 L790.1,207.6 L789.6,207.7 L789.0,207.7 L788.5,207.7 L788.1,207.5 L787.6,207.2 L787.2,206.9 L786.9,206.4 L786.6,205.9 L786.4,205.3 L786.3,204.7 L786.2,204.1 L786.2,203.4 L786.3,202.7 L786.5,202.1 L786.7,201.5 L787.0,200.9 L787.4,200.3 L787.8,199.8 L788.2,199.4 L788.7,199.1 L789.2,198.9 L789.8,198.7 L790.3,198.7 L790.8,198.7 L791.3,198.9 L791.7,199.1 L792.1,199.5 L792.4,199.9 L792.7,200.4 L793.0,200.9 L793.1,201.6 L793.2,202.2 L793.2,202.9 L793.1,203.5 L793.0,204.2 L792.7,204.8 L791.5,205.6" stroke-width="3.3" stroke-linecap="round" stroke-linejoin="round"/>
<path d="M791.9,206.2 L791.5,206.7 L791.1,207.0 L790.6,207.4 L790.1,207.6 L789.6,207.7 L789.0,207.7 L788.5,207.7 L788.1,207.5 L787.6,207.2 L787.2,206.9 L786.9,206.4 L786.6,205.9 L786.4,205.3 L786.3,204.7 L786.2,204.1 L786.2,203.4 L786.3,202.7 L786.5,202.1 L786.7,201.5 L787.0,200.9 L787.4,200.3 L787.8,199.8 L788.2,199.4 L788.7,199.1 L789.2,198.9 L789.8,198.7 L790.3,198.7 L790.8,198.7 L791.3,198.9 L791.7,199.1 L792.1,199.5 L792.4,199.9 L792.7,200.4 L793.0,200.9 L793.1,201.6 L793.2,202.2 L793.2,202.9 L793.1,203.5 L793.0,204.2 L792.7,204.8 L791.5,205.6" stroke="#fff" stroke-width="0.6" stroke-dasharray="2,1.5"/>

<path d="M794,203.2 L798.4,205.9"/>
<g transform="translate(800,207) rotate(18)">
<path d="M0,-1.8 L15,-1.8 L15,1.8 L0,1.8 Z" stroke-width="1.3"/>
<path d="M15,-4.5 L24,-4.5 L24,4.5 L15,4.5 Z" stroke-width="1.5"/>
<path d="M17,-4.5 l0.8,9 M19.5,-4.5 l0.8,9 M22,-4.5 l0.8,9" stroke-width="1.4"/>
<path d="M23,-7 L28,-8 L35,-7.5 L38,-3 L38,3 L35,7.5 L28,8 L23,7 Z" stroke-width="1.7"/>
<path d="M28,-8 L28,8 M23,-1 L38,-1 M23,2.5 L38,2.5" stroke-width="1.1"/>
<path d="M37,-6 L52,-6 M37,6 L52,6" stroke-width="1.6"/>
<ellipse cx="52" cy="0" rx="3.5" ry="6" stroke-width="1.7"/>
<ellipse cx="52.3" cy="0" rx="1.8" ry="3.3" stroke-width="1.2"/>
</g>
<!-- stud 10 area extra line to ring 20 -->
<path d="M717,204.2 L793,234.5 M800,238.5 L841.7,256.6" stroke-width="1.2"/>
<!-- ring 20 -->
<path d="M801.3,246.6 L800.3,246.9 L799.2,247.1 L798.2,247.1 L797.2,247.0 L796.3,246.6 L795.5,246.1 L794.8,245.4 L794.2,244.5 L793.8,243.6 L793.4,242.5 L793.3,241.3 L793.3,240.1 L793.4,238.9 L793.7,237.7 L794.1,236.4 L794.7,235.3 L795.4,234.2 L796.2,233.2 L797.1,232.3 L798.1,231.6 L799.1,231.1 L800.1,230.7 L801.1,230.5 L802.1,230.5 L803.1,230.6 L804.0,231.0 L804.8,231.5 L805.5,232.2 L806.1,233.0 L806.6,234.0 L806.9,235.0 L807.1,236.2 L807.1,237.4 L807.0,238.6 L806.7,239.9 L806.3,241.1 L805.7,242.3 L805.0,243.4 L804.2,244.3 L803.4,245.2 L800.9,245.1" stroke-width="3.3" stroke-linecap="round" stroke-linejoin="round"/>
<path d="M801.3,246.6 L800.3,246.9 L799.2,247.1 L798.2,247.1 L797.2,247.0 L796.3,246.6 L795.5,246.1 L794.8,245.4 L794.2,244.5 L793.8,243.6 L793.4,242.5 L793.3,241.3 L793.3,240.1 L793.4,238.9 L793.7,237.7 L794.1,236.4 L794.7,235.3 L795.4,234.2 L796.2,233.2 L797.1,232.3 L798.1,231.6 L799.1,231.1 L800.1,230.7 L801.1,230.5 L802.1,230.5 L803.1,230.6 L804.0,231.0 L804.8,231.5 L805.5,232.2 L806.1,233.0 L806.6,234.0 L806.9,235.0 L807.1,236.2 L807.1,237.4 L807.0,238.6 L806.7,239.9 L806.3,241.1 L805.7,242.3 L805.0,243.4 L804.2,244.3 L803.4,245.2 L800.9,245.1" stroke="#fff" stroke-width="0.7" stroke-dasharray="2,1.5"/>
<path d="M797.4,247.5 V264"/>
<!-- switch 12 -->
<path d="M873.7,196.9 L879.1,194.2 L886.7,194.2 L891.6,199.1 L889.9,203.4 L886.1,205.6 L878,205.6 L873.7,202.3 Z" stroke-width="1.7"/>
<path d="M879.6,195 Q880,190.5 883,190.4 Q886,190.5 886.1,195 M876,199 L879,201 L887,201 L890,199 M879,201 L878,205.6 M887,201 L886.1,205.6" stroke-width="1.3"/>
<path d="M877.5,205.6 L879.1,223 L882,223 L887,205.6" stroke-width="1.5"/>
<path d="M878,209 h8.5 M878.5,212.5 h7.5 M879,216 h6.5 M879,219.5 h5" stroke-width="1.5"/>
<path d="M890.9,200.7 H908.5 M880.5,223 L878,243" stroke-width="1.2"/>
<!-- housing 8 -->
<path d="M885,314.4 H904.8"/>
<path d="M824.5,240 L830.8,238.5 L848,236 Q854,236 855.6,242 L856,250 M825,246 L830.8,245.3 L847,243 Q850,244 850,249" stroke-width="1.4"/>
<ellipse cx="826" cy="243" rx="2.8" ry="3.5" stroke-width="1.4"/>
<path d="M842.6,252 Q844,248.5 850,249 Q858,249.5 859.7,253 L859.5,260 Q852,264 843,261 Z" stroke-width="1.4"/>
<ellipse cx="851" cy="252.5" rx="6.5" ry="3.2" stroke-width="1.3"/>
<path d="M848,251 l2,2 M853,251 l-1,2" stroke-width="1.2"/>
<path d="M859.7,248 Q861,240 866,239.6 Q872,240 873,246 L872,262" stroke-width="1.3"/>
<path d="M862,246 Q864,242 868,243" stroke-width="1.1"/>
<path d="M870.5,244 Q873,240 878,240 Q884,241 885,246 L885.5,262 L872,263 Z" stroke-width="1.4"/>
<ellipse cx="878" cy="246" rx="5" ry="2.8" stroke-width="1.2"/>
<path d="M875,236 L876,244 M880,236 L880.5,244 M876.5,230 L878.5,230" stroke-width="1.3"/>
<path d="M859.7,261 L870,265 M885.5,250 L896,254 L905,258 Q911,256 914,259 Q916,265 912,269 L906,269 L898,264" stroke-width="1.3"/>
<circle cx="908.4" cy="263.8" r="2.2" stroke-width="1.3"/>
<path d="M900,266 L903,275 L901,282" stroke-width="1.1"/>
<path d="M827.5,300.8 Q828,290 830.2,281.6 Q833,272 838.5,266.5 Q843,262 849.4,261 L879.6,265.1 L885.1,261 Q889,260.5 892,262.3 Q895.5,264 896,267.8 L894.7,291.2 Q893,297 890.6,302.1 L882.4,311.7 Q876,316 867.3,318.6 L849.4,320 Q841,318 835.7,313.1 L828.9,307.6 Z" stroke-width="1.5"/>
<ellipse cx="859" cy="289.8" rx="28.5" ry="24.5" transform="rotate(-25 859 289.8)" stroke-width="1.5"/>
<ellipse cx="859.5" cy="290" rx="25.5" ry="21.8" transform="rotate(-25 859.5 290)" stroke-width="1.2"/>
<ellipse cx="860" cy="290.5" rx="22.5" ry="19.5" transform="rotate(-25 860 290.5)" stroke-width="1.3"/>
<ellipse cx="861" cy="288.5" rx="18.5" ry="18.5" transform="rotate(-25 861 288.5)" stroke-width="1.2"/>
<path d="M852,272 Q846,278 846,290 M856,270.5 Q860,276 870,276 Q877,280 876,290 M852.2,281 Q858,276 866,281 Q872,286 870,292" stroke-width="1.3"/>
<path d="M858,286 Q866,284 868,290 L869,296" stroke-width="2.2"/>
<ellipse cx="857.5" cy="296" rx="6" ry="5.2" stroke-width="1.3"/>
<path d="M851,292 Q849,300 856,305 M866,297 Q866,304 858,307 M842,300 Q850,310 866,309" stroke-width="1.2"/>
<path d="M843,304 Q858,312 876,303 M845,307.5 Q860,314 878,306" stroke-width="1" stroke-dasharray="3,1.5"/>
<circle cx="887.8" cy="267.1" r="2.4" stroke-width="1.4"/>
<circle cx="886.5" cy="282.9" r="2.2" stroke-width="1.4"/>
<circle cx="832.3" cy="302.1" r="2.2" stroke-width="1.4"/>
<path d="M896,270 L900,276 L899,290 L894,294" stroke-width="1.1"/>
<path d="M897.6,281.5 L911,284 M897.6,289 L911,290.5" stroke-width="1.2"/>
<ellipse cx="912.8" cy="286.4" rx="3" ry="3.6" stroke-width="1.3"/>
<path d="M835.7,313.1 Q836,320 842,323.6 Q852,326 868,324 Q878,322 884,317 L882.4,311.7" stroke-width="1.3"/>
<path d="M846,320 Q850,324 854,323 M862,320 Q866,324 870,322" stroke-width="1.1"/>
<!-- E-7 box -->
<path d="M975.1,202.4 L965.3,213.1 L970.7,213.1 L970.7,224.2 L979.6,224.2 L979.6,213.1 L985,213.1 Z" stroke-width="1.3"/>
<path d="M954.3,221.2 L993,236.1 L993,264.4 L954.3,249.5 Z" stroke-dasharray="4,3" stroke-width="1.1"/>
<path d="M923,222.7 L963.2,239 M923,222.7 V270.4 L912,267"/>
<path d="M962,237 L974,240 L973,247.5 L962,244 Z" stroke-width="1.1"/>
<path d="M965,238 l-1,7 M968,239 l-1,7 M971,240 l-1,7" stroke-width="1.3"/>
<path d="M973.6,239 L980,237.6 L985.6,241 L985,250 L979,252.5 L973.6,249 Z" stroke-width="1.5"/>
<ellipse cx="981.5" cy="245" rx="3.5" ry="5" stroke-width="1.1"/>
<!-- bolt 25 -->
<path d="M942,275 L968,285.5 M940.5,280 L966.5,291" stroke-width="1.2"/>
<path d="M942,275 Q939.5,277 940.5,280" stroke-width="1.2"/>
<path d="M945,275.5 l-1.5,5.5 M948,276.7 l-1.5,5.5 M951,278 l-1.5,5.5 M954,279.2 l-1.5,5.5 M957,280.5 l-1.5,5.5 M960,281.7 l-1.5,5.5 M963,283 l-1.5,5.5" stroke-width="1.2"/>
<path d="M967.7,283.5 L975,282.3 L983,287 L984,295 L978,300.1 L969,296 Z" stroke-width="1.6"/>
<ellipse cx="979.5" cy="291.5" rx="4.5" ry="6.2" stroke-width="1.3"/>
<path d="M970.7,300 V313.6"/>
<!-- gasket 5 -->
<ellipse cx="820.9" cy="349.6" rx="29" ry="23" transform="rotate(38 820.9 349.6)" stroke-width="1.7"/>
<ellipse cx="821.2" cy="349.8" rx="26.8" ry="20.8" transform="rotate(38 821.2 349.8)" stroke-width="1"/>
<ellipse cx="821.6" cy="349.8" rx="23" ry="17.5" transform="rotate(38 821.6 349.8)" stroke-width="5.5" stroke-dasharray="1,2.4" stroke="#888"/>
<ellipse cx="822" cy="350" rx="19.6" ry="15" transform="rotate(38 822 350)" stroke-width="1.1"/>
<ellipse cx="822.2" cy="350.2" rx="17" ry="13" transform="rotate(38 822.2 350.2)" stroke-width="1.6"/>
<path d="M809,347 Q808,356 815,362 Q822,366 830,365" stroke-width="2" />
<path d="M813,336 L816,340 L821,339 L820,334.5 M834,342 L839,346 L836,350 L832,347" stroke-width="1.4" fill="#fff"/>
<path d="M848.4,360.5 H858.7 M873.3,360.5 H890.9 L858.7,413.4 H811 M874.3,387.4 H892"/>
<!-- thermostat 4 -->
<path d="M789.8,384 L791,376 Q795,371 803,371.5 Q810,372.5 811.2,377.5 L814.8,400" stroke-width="1.6"/>
<ellipse cx="802.8" cy="376.8" rx="8.3" ry="4.3" transform="rotate(12 802.8 376.8)" stroke-width="1.5"/>
<path d="M792,380 Q802,386 812,382 M792.5,384 Q803,390 813,386 M793,388 Q804,394 813.5,390 M796,392 Q805,397 814,394" stroke-width="1.6"/>
<path d="M812,382 L814.5,398" stroke-width="2.2" stroke="#333"/>
<ellipse cx="787.5" cy="403" rx="25.5" ry="22" transform="rotate(-30 787.5 403)" stroke-width="1.9" fill="#fff"/>
<path d="M806,390 Q813,400 809,413" stroke-width="1.8" stroke="#555"/>
<circle cx="785" cy="386.4" r="1.8" stroke-width="1.5"/>
<ellipse cx="786.8" cy="405.5" rx="15" ry="13.3" transform="rotate(-30 786.8 405.5)" stroke-width="1.6"/>
<path d="M776,402 Q780,396 788,396 Q797,398 799,405 Q797,414 788,417 Q778,417 775,410 Z" stroke-width="2"/>
<path d="M780,405 L785,399.5 L793,401 L796,407 L790,413 L782,411 Z" stroke-width="1.6"/>
<path d="M785,404 L790,404.5 L788.5,409 L784,408 Z" stroke-width="2.2"/>
<path d="M774,398 l4,4 M800,399 l-3,4 M775,413 l5,-3 M797,415 l-4,-3 M789,393 l0,4 M787,419 l0,-4 M773,406 l4,0" stroke-width="1.6"/>
<!-- cover 6 -->
<path d="M725.5,455 L725.9,441.7 Q728,436 733.1,433 Q738,429.5 744.7,428.7 L764.9,430.1 L782.3,435.9 L789.5,440.2 Q791,444 790.9,448.9 L788.8,466.2" stroke-width="1.7"/>
<path d="M728.8,454.7 L730.2,444.6 Q733,438 738.9,434.5 Q745,432.5 753.4,432.3 L775,435.9" stroke-width="1.2"/>
<path d="M785,441 L787,450 L786,466 M783,455 L784.5,468" stroke-width="1.4" stroke="#444"/>
<path d="M741,438.8 L747.6,433.8 L756.2,435.9 L757.7,443 L752,452.5 L741.8,448.9 Z" stroke-width="1.5"/>
<circle cx="745.4" cy="441.7" r="2" stroke-width="1.4"/>
<path d="M769.2,446 L782.3,440.2 M770,448 L784,442" stroke-width="1.5"/>
<circle cx="782.3" cy="448.2" r="2.6" stroke-width="1.5"/>
<ellipse cx="722" cy="467" rx="6.6" ry="10.6" transform="rotate(10 722 467)" stroke-width="1.8"/>
<ellipse cx="722.2" cy="467" rx="4.3" ry="7.6" transform="rotate(10 722.2 467)" stroke-width="1.4"/>
<path d="M718,462 L726,470 M717,467 l8,-3 M720,472 l5,-9" stroke-width="1.2"/>
<path d="M724.5,456.5 L738.9,451.8 Q742,462 746,472 Q749,478 751.9,479 M728.8,477.4 L747.6,480.7 L766.4,485" stroke-width="1.5"/>
<path d="M751.9,463.4 Q754,460.3 757.7,460.5 L785.1,469.1 M763.5,483.6 L785.1,492.3 M751.9,463.4 Q749,472 754,479 L763.5,483.6" stroke-width="1.5"/>
<ellipse cx="791.6" cy="482.1" rx="9.4" ry="13" transform="rotate(-12 791.6 482.1)" stroke-width="1.8"/>
<ellipse cx="792.3" cy="482.3" rx="5.9" ry="8.8" transform="rotate(-12 792.3 482.3)" stroke-width="1.5"/>
<path d="M786,478 Q788,486 793,490" stroke-width="1" stroke="#555"/>
<path d="M759.9,471.5 L765,470.6 L765.6,482.1 L760.5,482.5 Z" stroke-width="1.3"/>
<path d="M790,454.5 H813 M705,475.2 L719.5,469"/>
<!-- sensor 15 -->
<path d="M646.5,455.2 L692,437 V445.3 M646.5,455.2 V488 M667.1,433.9 V447.4 M692,463 V471.2"/>
<path d="M683.7,482.7 L718,469.2"/>
<path d="M697.7,483.4 L697.1,484.1 L696.6,484.6 L696.0,485.1 L695.3,485.4 L694.7,485.6 L694.1,485.7 L693.4,485.6 L692.9,485.4 L692.3,485.1 L691.9,484.6 L691.5,484.0 L691.2,483.3 L690.9,482.6 L690.8,481.8 L690.7,480.9 L690.8,480.0 L690.9,479.0 L691.1,478.1 L691.4,477.3 L691.8,476.4 L692.3,475.7 L692.8,475.0 L693.4,474.4 L694.0,473.9 L694.6,473.6 L695.3,473.4 L695.9,473.3 L696.5,473.4 L697.1,473.6 L697.6,473.9 L698.1,474.4 L698.5,474.9 L698.8,475.6 L699.1,476.4 L699.2,477.2 L699.3,478.1 L699.2,479.0 L699.1,479.9 L698.9,480.8 L698.6,481.7 L697.0,482.7" stroke-width="2.8" stroke-linecap="round" stroke-linejoin="round"/>
<path d="M697.7,483.4 L697.1,484.1 L696.6,484.6 L696.0,485.1 L695.3,485.4 L694.7,485.6 L694.1,485.7 L693.4,485.6 L692.9,485.4 L692.3,485.1 L691.9,484.6 L691.5,484.0 L691.2,483.3 L690.9,482.6 L690.8,481.8 L690.7,480.9 L690.8,480.0 L690.9,479.0 L691.1,478.1 L691.4,477.3 L691.8,476.4 L692.3,475.7 L692.8,475.0 L693.4,474.4 L694.0,473.9 L694.6,473.6 L695.3,473.4 L695.9,473.3 L696.5,473.4 L697.1,473.6 L697.6,473.9 L698.1,474.4 L698.5,474.9 L698.8,475.6 L699.1,476.4 L699.2,477.2 L699.3,478.1 L699.2,479.0 L699.1,479.9 L698.9,480.8 L698.6,481.7 L697.0,482.7" stroke="#fff" stroke-width="0.7" stroke-dasharray="2,1.5"/>
<g transform="translate(626,508) rotate(-21)">
<path d="M0,-6.5 L15,-6.5 M0,6.5 L15,6.5" stroke-width="1.6"/>
<ellipse cx="0" cy="0" rx="4" ry="6.5" stroke-width="1.8"/>
<ellipse cx="0.3" cy="0" rx="2" ry="3.5" stroke-width="1.3"/>
<path d="M5,-6.5 L7,-9 L13,-9 L14,-6.5 M6,-3 l6,0 M6,0 l6,0" stroke-width="1.2"/>
<path d="M15,-9.5 Q13,0 15,9.5 L18,10 Q16,0 18,-10 Z" stroke-width="1.6"/>
<path d="M18,-10 L30,-10.5 L35,-6 L35,6 L30,10.5 L18,10 Z" stroke-width="1.7"/>
<path d="M18,-2 L30,-3 L35,-6 M18,2.5 L30,3.5 L35,6 M30,-10.5 L30,10.5" stroke-width="1.2"/>
<path d="M35,-6 L47,-6 L47,6 L35,6" stroke-width="1.5"/>
<path d="M37,-6 l1,12 M39.5,-6 l1,12 M42,-6 l1,12 M44.5,-6 l1,12" stroke-width="1.4"/>
<path d="M47,-4 L61,-4 L61,4 L47,4" stroke-width="1.4"/>
</g>
<!-- bolt 22 -->
<path d="M743.4,505 L753,490.8 L757,493 L748,508.5 Z" stroke-width="1.2"/>
<path d="M746,499 l5,3 M748,496 l5,3 M750,493 l5,3" stroke-width="1.3"/>
<path d="M734,510 L740,506.4 L746.5,508 L747,517 L741,520 L735,518 Z" stroke-width="1.6"/>
<ellipse cx="741" cy="515" rx="5" ry="4.2" stroke-width="1.1"/>
<path d="M717.5,515.7 H734"/>
</g>
<text x="776.5" y="519" style="font-family:'Liberation Mono',monospace;font-size:14px;stroke-width:0">S303-E1500</text>
<text x="0" y="0" transform="translate(913.5,79.5) rotate(-26)" style="font-weight:bold;font-size:17px;letter-spacing:0.6px;stroke-width:0.9">FR.</text>
<g id="labels">
<text x="53" y="104">23</text>
<text x="94" y="226">3</text>
<text x="233.5" y="220">2</text>
<text x="177" y="270.8">1</text>
<text x="389" y="267" letter-spacing="-1.5">21</text>
<text x="556" y="241" letter-spacing="-1">11</text>
<text x="538" y="369" letter-spacing="-1.5" style="stroke-width:0.6">17</text>
<text x="667" y="337.2" letter-spacing="-1.5">21</text>
<text x="743" y="68.5">7</text>
<text x="831" y="46.5">9</text>
<text x="908" y="106.5" style="stroke-width:0.8">24</text>
<text x="728.5" y="141" letter-spacing="-1">14</text>
<text x="802.5" y="157" letter-spacing="-1.8">16</text>
<text x="782.5" y="186.5" letter-spacing="-2">18</text>
<text x="923.5" y="156.5" letter-spacing="-1.5">13</text>
<text x="911" y="205">12</text>
<text x="959.5" y="199" letter-spacing="0.8" style="font-family:'Liberation Mono',monospace;font-size:17px;stroke-width:0.45">E-7</text>
<text x="704.5" y="233.3">10</text>
<text x="787.5" y="279.5" letter-spacing="1">20</text>
<text x="907.5" y="320.5" style="font-size:17.5px">8</text>
<text x="961.5" y="330" style="stroke-width:0.6">25</text>
<text x="861" y="365">5</text>
<text x="895" y="392">4</text>
<text x="658.5" y="431.3" letter-spacing="-1.3">15</text>
<text x="685" y="460" letter-spacing="-1.6">19</text>
<text x="814.5" y="458.5">6</text>
<text x="696" y="521" style="stroke-width:0.55">22</text>
</g>
</svg>
</body></html>
